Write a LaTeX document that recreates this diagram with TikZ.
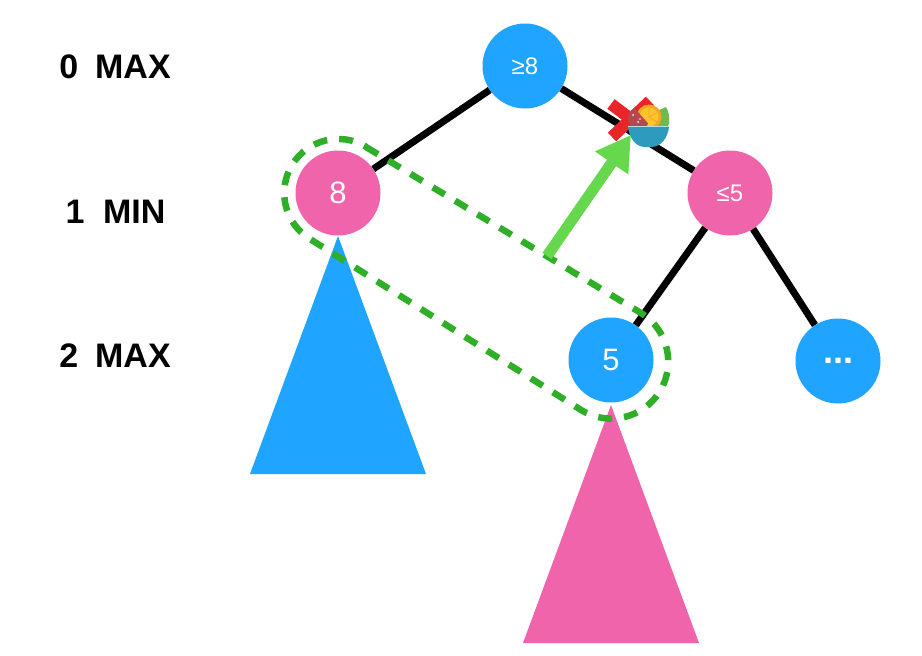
\documentclass[tikz,border=0pt]{standalone}
\usepackage{fontspec}
\setmainfont{Liberation Sans}
\usetikzlibrary{arrows.meta,calc}
\definecolor{bluec}{HTML}{1FA5FF}
\definecolor{pinkc}{HTML}{EF64AA}
\definecolor{dashc}{HTML}{2FAE28}
\definecolor{arrowc}{HTML}{66D84E}
\definecolor{redx}{HTML}{E8262A}
\definecolor{bowlc}{HTML}{2E9ABD}
\definecolor{leafc}{HTML}{6DBB4E}
\definecolor{meatc}{HTML}{B5474F}
\definecolor{peelc}{HTML}{F5A623}
\definecolor{pulpc}{HTML}{FFC42E}
\tikzset{
  x=1pt,y=-1pt,
  maxnode/.style={circle,fill=bluec,minimum size=85pt,inner sep=0pt,text=white,font=\fontsize{31}{34}\selectfont},
  minnode/.style={circle,fill=pinkc,minimum size=85pt,inner sep=0pt,text=white,font=\fontsize{31}{34}\selectfont},
  smalltxt/.style={font=\fontsize{24}{27}\selectfont},
  level/.style={font=\fontsize{34}{37}\selectfont\bfseries,text=black,anchor=base},
  edge/.style={line width=7pt,black},
  loop/.style={draw=dashc,line width=6.5pt,dash pattern=on 14pt off 12pt},
}
\begin{document}
\begin{tikzpicture}
\useasboundingbox (0,0) rectangle (922,656);
\fill[white] (0,0) rectangle (922,656);
% nodes
\node[maxnode,smalltxt] (root) at (525,66) {≥8};
\node[minnode] (a) at (338,193) {8};
\node[minnode,smalltxt] (b) at (730,193) {≤5};
\node[maxnode] (c) at (611,360) {5};
\node[maxnode,font=\fontsize{36}{38}\selectfont\bfseries] (d) at (838,361) {...};
% subtree triangles
\fill[bluec] (338,236) -- (426,474) -- (250,474) -- cycle;
\fill[pinkc] (611,405) -- (699,643) -- (523,643) -- cycle;
% edges
\draw[edge] (root) -- (a);
\draw[edge] (root) -- (b);
\draw[edge] (b) -- (c);
\draw[edge] (b) -- (d);
% level labels
\node[level] (l0) at (115,78) {0\hspace{0.5em}MAX};
\node[level] (l1) at (115.5,223) {1\hspace{0.55em}MIN};
\node[level] (l2) at (115,367) {2\hspace{0.5em}MAX};
% dashed loop
\draw[loop] (366,147)
  -- (641,313)
  arc[start angle=-58.5,end angle=121.5,radius=57]
  -- (310,239)
  arc[start angle=121.5,end angle=301.5,radius=54];
% pruning cross
\draw[redx,line width=12pt] (611,104) -- (652,135);
\draw[redx,line width=12pt] (612,137) -- (650,101);
% bowl
\fill[leafc] (652,112) .. controls (660,110) and (664,108) .. (666,107) .. controls (670,114) and (670,122) .. (668,127) -- (650,127) -- cycle;
\fill[peelc] (649,117) circle[radius=12.5];
\fill[pulpc] (649,117) circle[radius=9.5];
\draw[peelc,line width=0.8pt] (649,117) -- (649,108) (649,117) -- (657,113) (649,117) -- (657,122);
\begin{scope}
  \clip (630,103) -- (653,129) -- (620,129) -- (620,103) -- cycle;
  \fill[meatc] (639,118) circle[radius=11];
\end{scope}
\fill[white!70!pink] (638,122) circle[radius=1];
\fill[white!70!pink] (633,115) circle[radius=1];
\fill[white!70!pink] (640,119) circle[radius=0.8];
\fill[white] (628,125.5) rectangle (669,127);
\fill[bowlc] (628,126.5) -- (669,126.5) .. controls (668,138) and (661,147) .. (651,147) -- (645,147) .. controls (636,147) and (629,138) .. (628,126.5) -- cycle;
% green arrow
\coordinate (arrowstart) at (547,256);
\coordinate (arrowtip) at (631,135);
\draw[arrowc,line width=11pt,-{Triangle[length=34pt,width=38pt]}] (arrowstart) -- (arrowtip);
\end{tikzpicture}
\end{document}
